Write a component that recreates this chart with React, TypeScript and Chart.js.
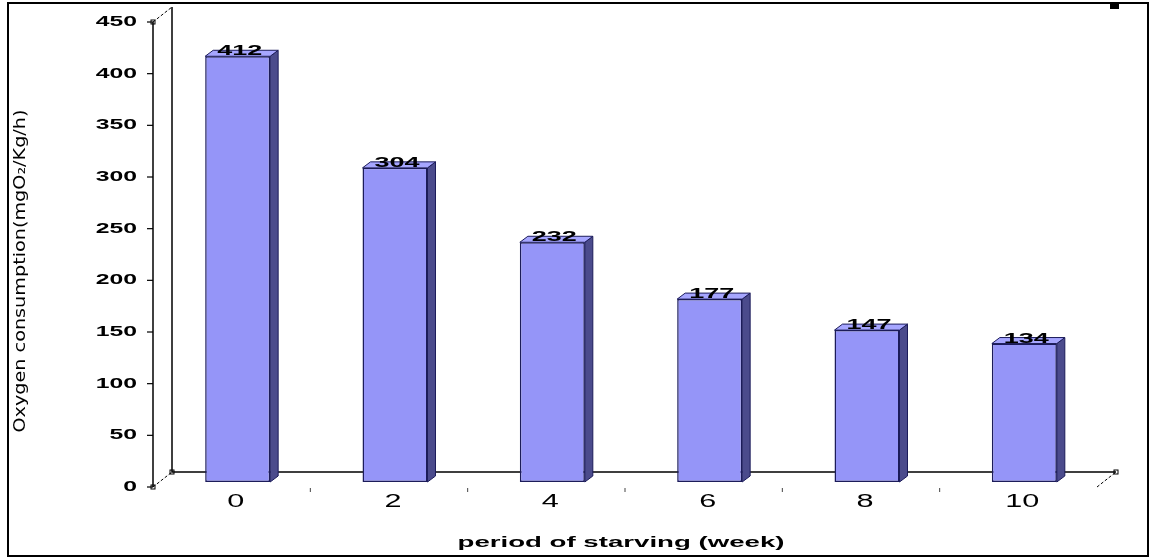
import React, { useEffect, useRef } from 'react';
import { Chart, registerables } from 'chart.js';

Chart.register(...registerables);

const categories: string[] = ['0', '2', '4', '6', '8', '10'];
const values: number[] = [412, 304, 232, 177, 147, 134];
const yTicks: number[] = [0, 50, 100, 150, 200, 250, 300, 350, 400, 450];
const xTitle = 'period of starving (week)';
const yTitle = 'Oxygen consumption(mgO₂/Kg/h)';

const FRONT = '#9595F8';
const SIDE = '#4B4B8C';
const TOP = '#A6A6FF';
const EDGE = '#1C1C5A';
const DX = 8; // bar depth
const DY = -6;
const FX = -6; // front plane relative to bar plane
const FY = 5;
const BX = 13; // back plane relative to bar plane
const BY = -10;
const FONT = "'Liberation Sans', Arial, sans-serif";

function drawText(
  ctx: CanvasRenderingContext2D,
  text: string,
  x: number,
  y: number,
  font: string,
  sx: number,
  align: CanvasTextAlign,
  baseline: CanvasTextBaseline,
  rotate = 0,
  fitWidth = 0
) {
  ctx.save();
  ctx.font = font;
  ctx.fillStyle = '#000';
  ctx.textAlign = align;
  ctx.textBaseline = baseline;
  ctx.translate(x, y);
  if (rotate) ctx.rotate(rotate);
  let s = sx;
  if (fitWidth) s = fitWidth / ctx.measureText(text).width;
  ctx.scale(s, 1);
  ctx.fillText(text, 0, 0);
  ctx.restore();
}

const decorPlugin = {
  id: 'decor3d',
  beforeDatasetsDraw(chart: any) {
    const ctx: CanvasRenderingContext2D = chart.ctx;
    const { left, right, top, bottom } = chart.chartArea;
    const ys = chart.scales.y;
    const xs = chart.scales.x;
    ctx.save();
    // frame
    ctx.strokeStyle = '#000';
    ctx.lineWidth = 2;
    ctx.strokeRect(8, 3, 1140, 553);
    ctx.fillStyle = '#000';
    ctx.fillRect(1110, 2, 9, 7);

    // back wall & floor
    const bl = left + BX;
    const bt = top + BY;
    const bb = bottom + BY;
    const br = right + BX;
    ctx.lineWidth = 1.5;
    ctx.beginPath();
    ctx.moveTo(bl, bt);
    ctx.lineTo(bl, bb);
    ctx.lineTo(br, bb);
    ctx.stroke();

    // front y axis
    const fl = left + FX;
    const y0 = ys.getPixelForValue(0) + FY;
    const yTop = ys.getPixelForValue(yTicks[yTicks.length - 1]) + FY;
    ctx.beginPath();
    ctx.moveTo(fl, yTop);
    ctx.lineTo(fl, y0);
    ctx.stroke();
    ctx.lineWidth = 1.2;
    yTicks.forEach((v) => {
      const yy = ys.getPixelForValue(v) + FY;
      ctx.beginPath();
      ctx.moveTo(fl - 6, yy);
      ctx.lineTo(fl, yy);
      ctx.stroke();
      drawText(ctx, String(v), fl - 16, yy, `bold 15px ${FONT}`, 1.65, 'right', 'middle');
    });

    // dashed diagonals
    ctx.setLineDash([3, 2]);
    ctx.lineWidth = 1;
    const diag = (x1: number, y1: number, x2: number, y2: number) => {
      ctx.beginPath();
      ctx.moveTo(x1, y1);
      ctx.lineTo(x2, y2);
      ctx.stroke();
    };
    diag(fl, yTop, bl, bt);
    diag(fl, y0, bl, bb);
    diag(right + FX, y0, br, bb);
    ctx.setLineDash([]);
    const mark = (x: number, y: number) => {
      ctx.strokeRect(x - 2, y - 2, 4, 4);
    };
    mark(fl, y0);
    mark(bl, bb);
    mark(br, bb);
    mark(fl, yTop);

    // small category separators on front plane
    const n = categories.length;
    const cw = (right - left) / n;
    ctx.strokeStyle = '#444';
    for (let k = 1; k < n; k++) {
      const xx = left + k * cw + FX;
      ctx.beginPath();
      ctx.moveTo(xx, y0 + 1);
      ctx.lineTo(xx, y0 + 5);
      ctx.stroke();
    }

    // x tick labels
    categories.forEach((c, i) => {
      const xx = xs.getPixelForValue(i) - 2;
      drawText(ctx, c, xx, y0 + 15, `18px ${FONT}`, 1.7, 'center', 'middle');
    });

    // axis titles
    drawText(ctx, xTitle, (left + right) / 2 - 10, 543, `bold 15px ${FONT}`, 1, 'center', 'middle', 0, 327);
    drawText(
      ctx,
      yTitle,
      21,
      271,
      `16px 'Liberation Sans Narrow', 'DejaVu Sans Condensed', ${FONT}`,
      1,
      'center',
      'middle',
      -Math.PI / 2,
      323
    );
    ctx.restore();
  },
  afterDatasetsDraw(chart: any) {
    const ctx: CanvasRenderingContext2D = chart.ctx;
    const meta = chart.getDatasetMeta(0);
    ctx.save();
    ctx.lineWidth = 1;
    ctx.strokeStyle = EDGE;
    meta.data.forEach((bar: any, i: number) => {
      const l = bar.x - bar.width / 2;
      const r = bar.x + bar.width / 2;
      const t = bar.y;
      const b = bar.base;
      // side face
      ctx.fillStyle = SIDE;
      ctx.beginPath();
      ctx.moveTo(r, t);
      ctx.lineTo(r + DX, t + DY);
      ctx.lineTo(r + DX, b + DY);
      ctx.lineTo(r, b);
      ctx.closePath();
      ctx.fill();
      ctx.stroke();
      // top face
      ctx.fillStyle = TOP;
      ctx.beginPath();
      ctx.moveTo(l, t);
      ctx.lineTo(l + DX, t + DY);
      ctx.lineTo(r + DX, t + DY);
      ctx.lineTo(r, t);
      ctx.closePath();
      ctx.fill();
      ctx.stroke();
      // value label
      drawText(ctx, String(values[i]), bar.x + 2, t - 1, `bold 15px ${FONT}`, 1.8, 'center', 'alphabetic');
    });
    ctx.restore();
  },
};

export default function App() {
  const ref = useRef<HTMLCanvasElement | null>(null);
  useEffect(() => {
    document.body.style.margin = '0';
    document.body.style.background = '#fff';
    if (!ref.current) return;
    const chart = new Chart(ref.current, {
      type: 'bar',
      data: {
        labels: categories,
        datasets: [
          {
            data: values,
            backgroundColor: FRONT,
            borderColor: EDGE,
            borderWidth: 1.5,
            borderSkipped: false,
            barPercentage: 0.413,
            categoryPercentage: 1,
          },
        ],
      },
      options: {
        animation: false,
        responsive: false,
        devicePixelRatio: 1,
        layout: { padding: { left: 159, right: 53, top: 17, bottom: 76 } },
        scales: {
          x: { display: false },
          y: { display: false, min: 0, max: 450 },
        },
        plugins: {
          legend: { display: false },
          tooltip: { enabled: false },
        },
      },
      plugins: [decorPlugin],
    });
    return () => chart.destroy();
  }, []);
  return (
    <div style={{ width: 1156, height: 558, background: '#fff' }}>
      <canvas ref={ref} width={1156} height={558} style={{ display: 'block' }} />
    </div>
  );
}
